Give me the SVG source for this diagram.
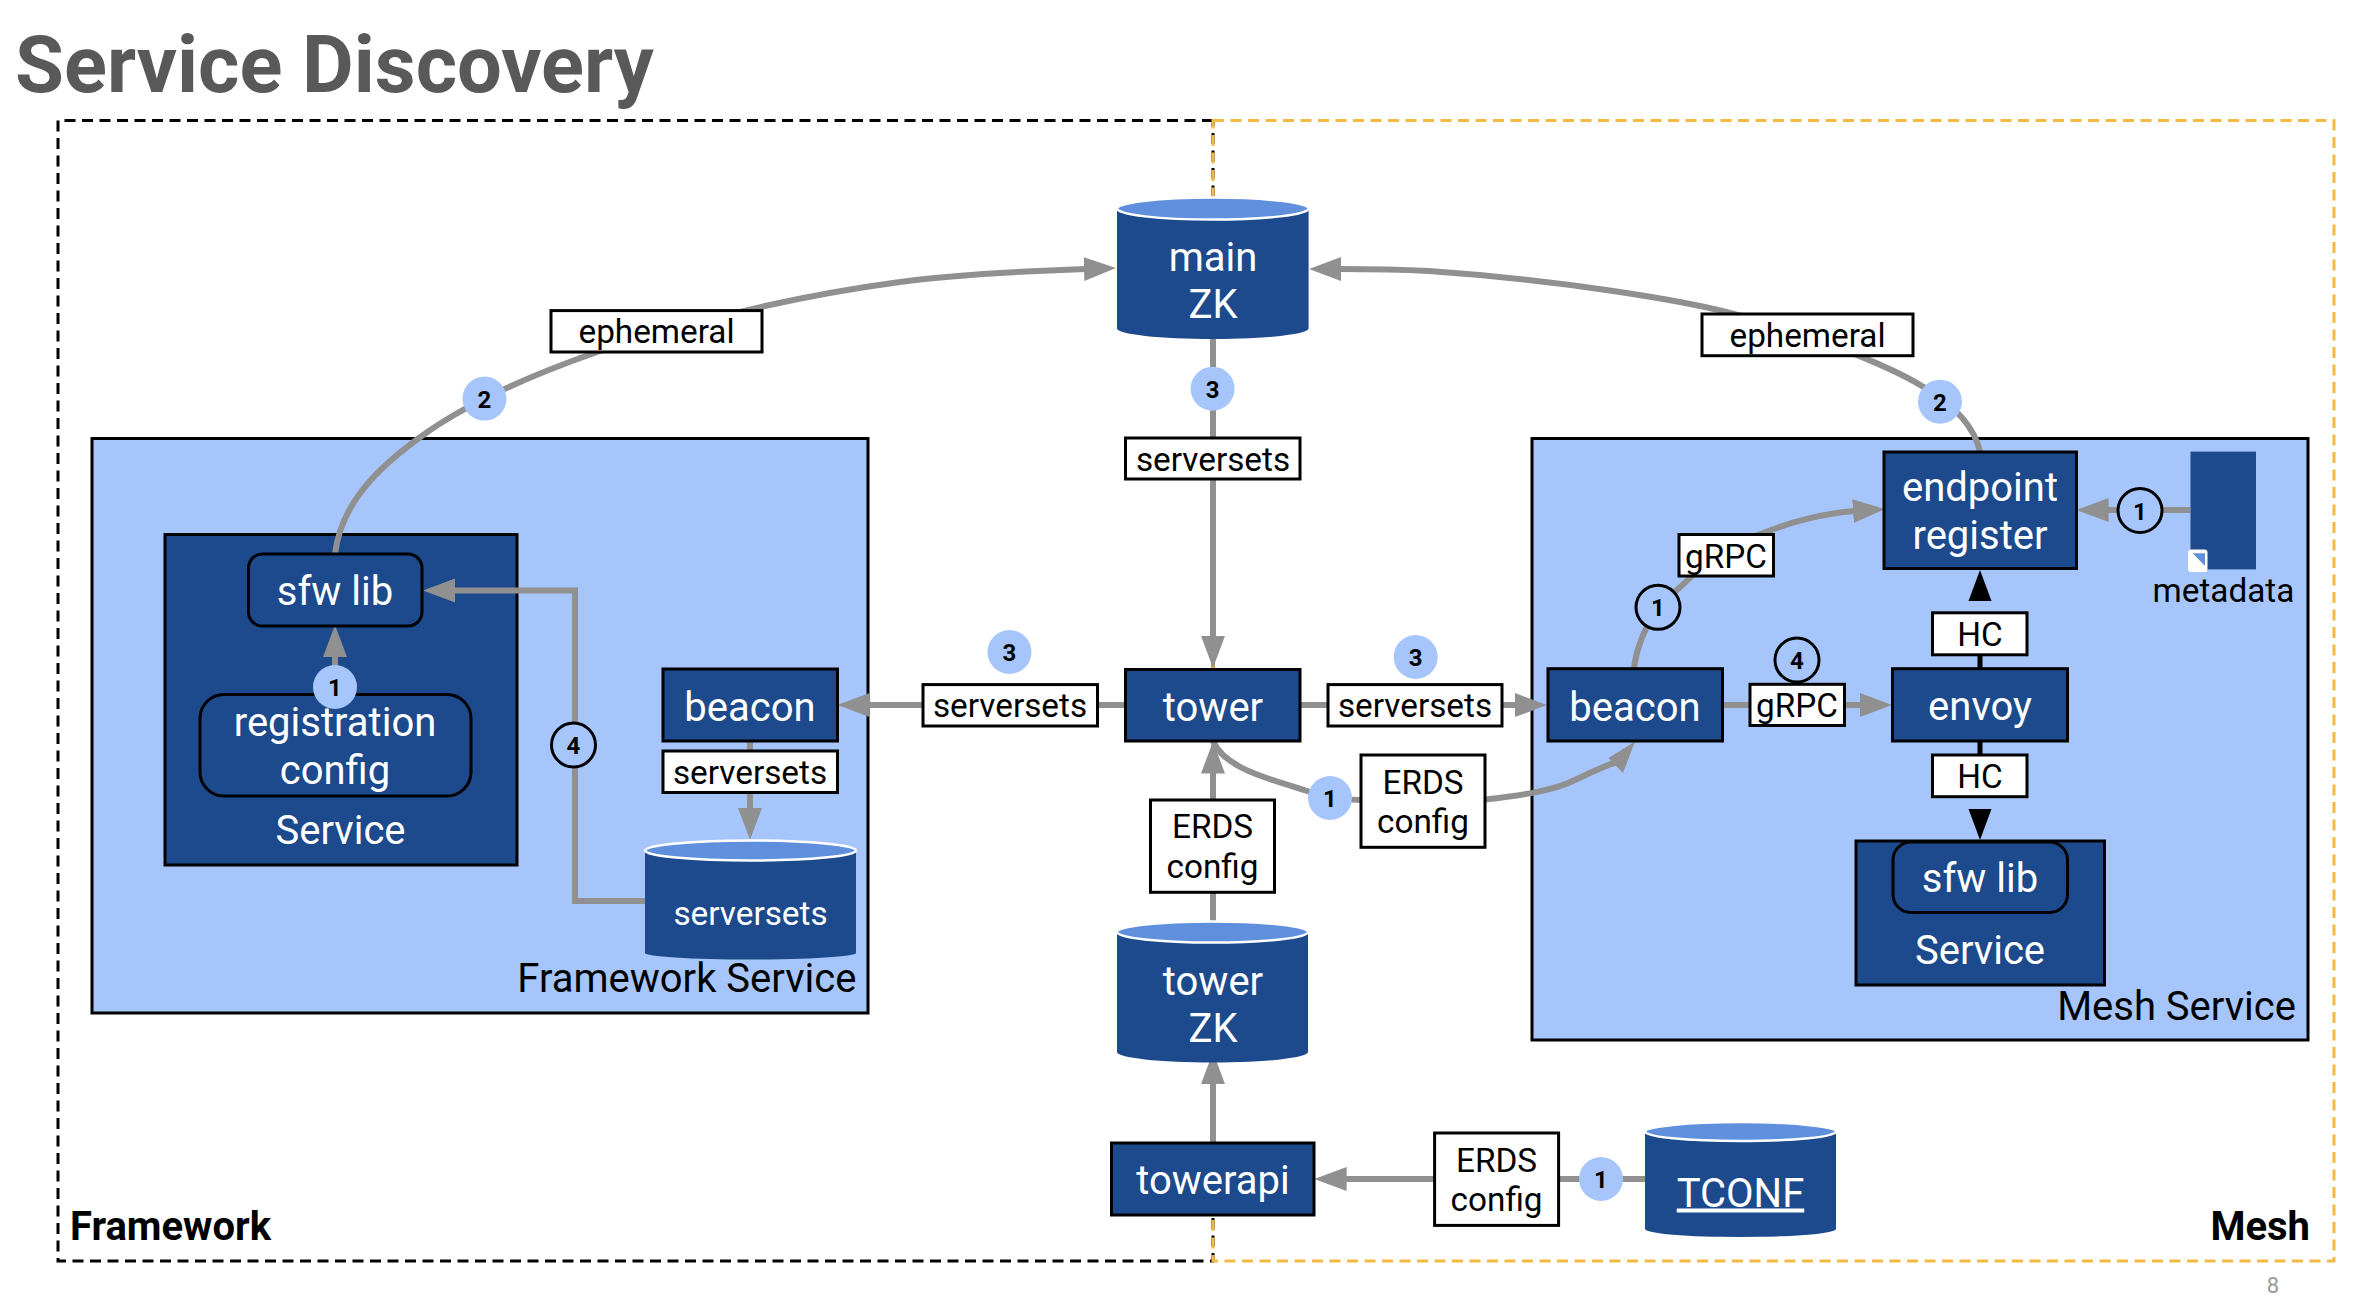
<svg xmlns="http://www.w3.org/2000/svg" width="2376" height="1308" viewBox="0 0 2376 1308">
<style>
text{font-family:Roboto,"Liberation Sans",sans-serif;text-anchor:middle}
.n{font-size:40px;fill:#fff}
.l{font-size:33.3px;fill:#000}
.w{font-size:33.3px;fill:#fff}
.t{font-size:40px;fill:#000;text-anchor:end}
.b{font-size:24px;font-weight:700;fill:#000}
.g{font-size:40px;font-weight:700;fill:#000}
.dark{fill:#1c4a8c;stroke:#000;stroke-width:3}
.plain{fill:#1c4a8c}
.panel{fill:#a6c6fb;stroke:#000;stroke-width:3}
.lab{fill:#fff;stroke:#000;stroke-width:3}
.top{fill:#5f8fdd;stroke:#fff;stroke-width:2.5}
.bf{fill:#a6c6fb}
.bs{fill:#a6c6fb;stroke:#000;stroke-width:3}
.c{fill:none;stroke:#909090;stroke-width:6}
.a{marker-end:url(#ga)}
.k{fill:none;stroke:#000;stroke-width:5}
.d1{fill:none;stroke:#000;stroke-width:3;stroke-dasharray:11 6.500}
.d2{fill:none;stroke:#f4b942;stroke-width:3;stroke-dasharray:11 6.500}
</style>
<defs>
<marker id="ga" markerUnits="userSpaceOnUse" markerWidth="32" markerHeight="26" refX="2" refY="13" orient="auto"><polygon points="0,1 32,13 0,25" fill="#909090"/></marker>
</defs>
<text x="15" y="92" font-size="79.500" font-weight="700" fill="#595959" style="text-anchor:start">Service Discovery</text>
<g id="zone-framework"><path class="d1" d="M1213,120.500H58V1261H1213Z"/><text class="g" x="70" y="1240" style="text-anchor:start">Framework</text></g>
<g id="zone-mesh"><path class="d2" d="M1213,120.500H2334V1261H1213Z"/><text class="g" x="2310" y="1240" style="text-anchor:end">Mesh</text></g>
<g id="panel-framework"><rect class="panel" x="92" y="438.500" width="776" height="574.500"/><text class="t" x="856.500" y="992">Framework Service</text></g>
<g id="panel-mesh"><rect class="panel" x="1532" y="438.500" width="776" height="601.500"/><text class="t" x="2296" y="1019.500">Mesh Service</text></g>
<g id="service-left"><rect class="dark" x="165" y="534.500" width="352" height="330.500"/><text class="n" x="340.500" y="844">Service</text></g>
<g id="connectors">
<path class="c a" d="M335,554C341,505 375,470 419,438C470,400 540,372 597,352C680,325 780,298 900,282C960,274 1030,271 1086,269"/>
<path class="c a" d="M1980,452C1975,428 1955,405 1923,386.700C1890,366 1800,330 1729,312.600C1680,300 1560,280 1429,271C1400,269.500 1370,269 1339,269"/>
<path class="c a" d="M335,694V655"/>
<path class="c a" d="M645,901H575V590.500H453"/>
<path class="c a" d="M750,741V810"/>
<path class="c a" d="M1125,705H867.500"/>
<path class="c a" d="M1300,705H1517"/>
<path class="c a" d="M1213,339V638"/>
<path class="c a" d="M1213,922V771.500"/>
<path class="c a" d="M1213,1143V1082"/>
<path class="c a" d="M1645,1179H1344.600"/>
<path class="c" d="M1213,741C1225,770 1275,780 1310,792C1330,798 1345,800 1361,800"/>
<path class="c" d="M1485,799.600C1525,795 1555,790 1575,780C1590,773 1605,765 1618,762"/>
<polygon points="1635,741.500 1608.500,758 1623,773" fill="#909090"/>
<path class="c a" d="M1634,668.700C1636,650 1645,625 1660,606C1675,590 1680,588 1692,576C1715,553 1760,533 1762,533.600C1790,522 1825,513 1855,511"/>
<path class="c a" d="M1722,705H1862"/>
<path class="c a" d="M2190,510H2106.600"/>
<path class="k" d="M1980,668V654"/>
<path class="k" d="M1980,741V756"/>
<polygon points="1980,570 1968.500,601 1991.500,601" fill="#000"/>
<polygon points="1980,840 1968.500,809 1991.500,809" fill="#000"/>
</g>
<g id="main-zk"><path class="plain" d="M1117,208.600V328.500A95.800,10.500 0 0 0 1308.600,328.500V208.600Z"/><ellipse class="top" cx="1212.800" cy="208.600" rx="95.800" ry="11"/><text class="n" x="1213" y="271">main</text><text class="n" x="1213" y="318">ZK</text></g>
<g id="tower-zk"><path class="plain" d="M1117,932V1052A95.500,10.500 0 0 0 1308,1052V932Z"/><ellipse class="top" cx="1212.500" cy="932" rx="95.500" ry="10.500"/><text class="n" x="1213" y="994.700">tower</text><text class="n" x="1213" y="1042">ZK</text></g>
<g id="tconf"><path class="plain" d="M1645,1131.600V1229A95.500,8 0 0 0 1836,1229V1131.600Z"/><ellipse class="top" cx="1740.500" cy="1131.600" rx="95.500" ry="9.500"/><text class="n" x="1740.500" y="1206.500" text-decoration="underline">TCONF</text></g>
<g id="serversets-store"><path class="plain" d="M645,850.500V953A105.500,6.500 0 0 0 856,953V850.500Z"/><ellipse class="top" cx="750.500" cy="850.500" rx="105.500" ry="10"/><text class="w" x="750.500" y="924.600">serversets</text></g>
<g id="sfw-lib-left"><rect class="dark" x="248.500" y="554" width="173.500" height="72" rx="14"/><text class="n" x="335" y="605">sfw lib</text></g>
<g id="registration-config"><rect class="dark" x="200" y="694.500" width="271" height="101.500" rx="24"/><text class="n" x="335" y="736">registration</text><text class="n" x="335" y="784">config</text></g>
<g id="beacon-left"><rect class="dark" x="663" y="669" width="174.500" height="72"/><text class="n" x="750" y="720.500">beacon</text></g>
<g id="tower"><rect class="dark" x="1125.500" y="669.500" width="174.500" height="71.500"/><text class="n" x="1213" y="720.500">tower</text></g>
<g id="towerapi"><rect class="dark" x="1111.500" y="1143" width="202.500" height="72"/><text class="n" x="1213" y="1194">towerapi</text></g>
<g id="beacon-right"><rect class="dark" x="1548" y="668.700" width="174.500" height="72.300"/><text class="n" x="1635" y="720.500">beacon</text></g>
<g id="envoy"><rect class="dark" x="1892.500" y="668.700" width="175" height="72.300"/><text class="n" x="1980" y="720">envoy</text></g>
<g id="endpoint-register"><rect class="dark" x="1884" y="452" width="192.500" height="116.500"/><text class="n" x="1980" y="501">endpoint</text><text class="n" x="1980" y="548.500">register</text></g>
<g id="service-right"><rect class="dark" x="1856" y="841" width="248.500" height="144"/><text class="n" x="1980" y="963.500">Service</text></g>
<g id="sfw-lib-right"><rect class="dark" x="1893" y="842" width="174.500" height="70.500" rx="18"/><text class="n" x="1980" y="892">sfw lib</text></g>
<g id="metadata"><rect class="plain" x="2190.500" y="451.600" width="65.500" height="117.800"/><rect x="2188" y="549.500" width="19.500" height="22.500" rx="3" fill="#fff"/><polygon points="2192.700,553.300 2205,553.300 2205,566" fill="#5f8fdd"/><text class="l" x="2223.500" y="602">metadata</text></g>
<g id="label-ephemeral-left"><rect class="lab" x="551" y="310.600" width="211" height="41.400"/><text class="l" x="656.500" y="343">ephemeral</text></g>
<g id="label-ephemeral-right"><rect class="lab" x="1702" y="314" width="211" height="41.700"/><text class="l" x="1807.500" y="346.700">ephemeral</text></g>
<g id="label-serversets-top"><rect class="lab" x="1125.500" y="438" width="174.500" height="41"/><text class="l" x="1213" y="471">serversets</text></g>
<g id="label-serversets-l"><rect class="lab" x="923" y="684.600" width="174.500" height="41.400"/><text class="l" x="1010" y="717">serversets</text></g>
<g id="label-serversets-r"><rect class="lab" x="1328" y="684.600" width="174" height="41.400"/><text class="l" x="1415" y="717">serversets</text></g>
<g id="label-serversets-b"><rect class="lab" x="663" y="751" width="174.500" height="41.500"/><text class="l" x="750" y="784">serversets</text></g>
<g id="label-erds-1"><rect class="lab" x="1150.500" y="800" width="124" height="92.300"/><text class="l" x="1212.500" y="837.600">ERDS</text><text class="l" x="1212.500" y="877.600">config</text></g>
<g id="label-erds-2"><rect class="lab" x="1361" y="755" width="124" height="92.300"/><text class="l" x="1423" y="793.500">ERDS</text><text class="l" x="1423" y="833">config</text></g>
<g id="label-erds-3"><rect class="lab" x="1434.600" y="1133" width="124" height="92.400"/><text class="l" x="1496.600" y="1172">ERDS</text><text class="l" x="1496.600" y="1211">config</text></g>
<g id="label-grpc-1"><rect class="lab" x="1679" y="534.500" width="94.500" height="41.500"/><text class="l" x="1726" y="568">gRPC</text></g>
<g id="label-grpc-2"><rect class="lab" x="1750" y="684.300" width="94.500" height="41.200"/><text class="l" x="1797" y="716.700">gRPC</text></g>
<g id="label-hc-1"><rect class="lab" x="1932.500" y="612.800" width="94.500" height="42"/><text class="l" x="1980" y="646">HC</text></g>
<g id="label-hc-2"><rect class="lab" x="1932.500" y="755" width="94.500" height="41.700"/><text class="l" x="1980" y="788">HC</text></g>
<g id="badge-l1"><circle class="bf" cx="335" cy="687" r="22"/><text class="b" x="335" y="696">1</text></g>
<g id="badge-l2"><circle class="bf" cx="484.500" cy="398.600" r="22"/><text class="b" x="484.500" y="407.500">2</text></g>
<g id="badge-l3"><circle class="bf" cx="1009.500" cy="652" r="22"/><text class="b" x="1009.500" y="660.500">3</text></g>
<g id="badge-l4"><circle class="bs" cx="573.500" cy="745" r="22"/><text class="b" x="573.500" y="754">4</text></g>
<g id="badge-c3"><circle class="bf" cx="1212.600" cy="388.700" r="22"/><text class="b" x="1212.600" y="397.500">3</text></g>
<g id="badge-r3"><circle class="bf" cx="1415.700" cy="657" r="22"/><text class="b" x="1415.700" y="665.500">3</text></g>
<g id="badge-c1"><circle class="bf" cx="1330" cy="798" r="22"/><text class="b" x="1330" y="807">1</text></g>
<g id="badge-t1"><circle class="bf" cx="1601" cy="1179" r="22"/><text class="b" x="1601" y="1188">1</text></g>
<g id="badge-r2"><circle class="bf" cx="1940" cy="401.700" r="22"/><text class="b" x="1940" y="410.500">2</text></g>
<g id="badge-r1"><circle class="bs" cx="1658" cy="607.300" r="22"/><text class="b" x="1658" y="616">1</text></g>
<g id="badge-r4"><circle class="bs" cx="1797" cy="660" r="22"/><text class="b" x="1797" y="669">4</text></g>
<g id="badge-m1"><circle class="bs" cx="2140" cy="510.500" r="22"/><text class="b" x="2140" y="519.500">1</text></g>
<text x="2273" y="1293" font-size="22" fill="#999">8</text>
</svg>
